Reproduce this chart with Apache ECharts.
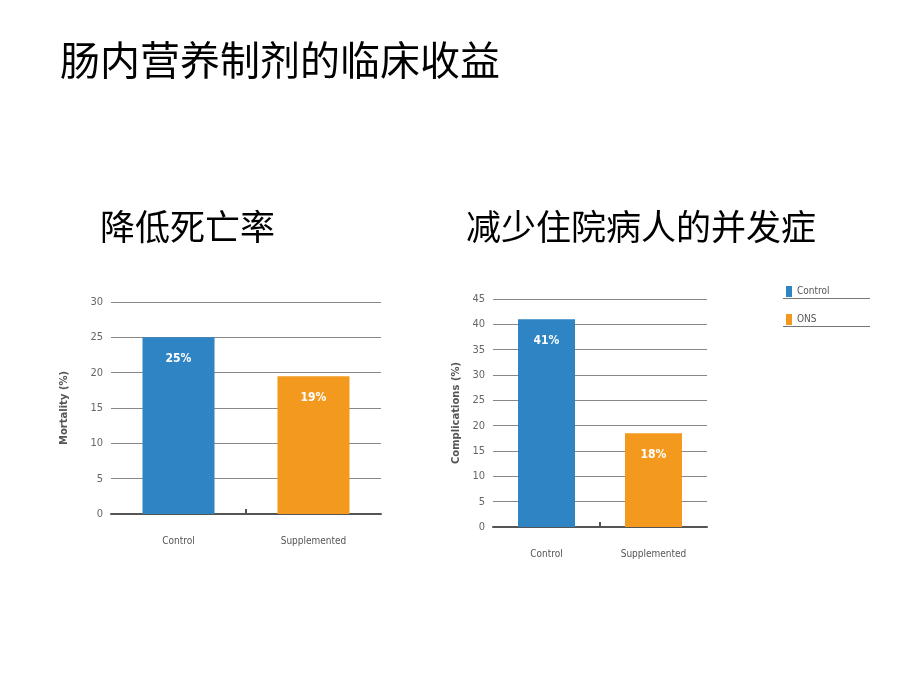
<!DOCTYPE html>
<html>
<head>
<meta charset="utf-8">
<script src="https://cdn.jsdelivr.net/npm/echarts@6/dist/echarts.min.js"></script>
<style>
html,body{margin:0;padding:0;background:#fff;}
#c{width:920px;height:690px;}
</style>
</head>
<body>
<div id="c"></div>
<script>
var categories = ['Control', 'Supplemented'];
var legendNames = ['Control', 'ONS'];
var mortality = [25, 19.5];
var mortalityLabels = ['25%', '19%'];
var complications = [41, 18.5];
var complicationLabels = ['41%', '18%'];
var mainTitle = '肠内营养制剂的临床收益';
var leftTitle = '降低死亡率';
var rightTitle = '减少住院病人的并发症';

var BLUE = '#2F84C4', ORANGE = '#F39A1E';
var cjk = '"Noto Sans CJK SC", sans-serif';
var chart = echarts.init(document.getElementById('c'));

function makeSeries(name, idx, values, labels, color, axisIndex, width) {
  return {
    type: 'bar', name: name, xAxisIndex: axisIndex, yAxisIndex: axisIndex,
    data: values.map(function (v, i) { return i === idx ? v : '-'; }),
    barWidth: width, barGap: '-100%',
    itemStyle: { color: color },
    label: {
      show: true, position: 'insideTop', distance: 16,
      color: '#fff', fontSize: 12, fontWeight: 'bold', fontFamily: '"Liberation Sans Narrow","DejaVu Sans Condensed",sans-serif',
      formatter: function (p) { return labels[p.dataIndex]; }
    },
    silent: true, animation: false
  };
}

function xAx(gi) {
  return {
    type: 'category', gridIndex: gi, data: categories,
    axisLine: { lineStyle: { color: '#555', width: 2 } },
    axisTick: { show: false },
    axisLabel: { color: '#555', fontSize: 10, margin: 22, fontFamily: '"DejaVu Sans Condensed", sans-serif' }
  };
}
function yAx(gi, max, interval, name, gap) {
  return {
    type: 'value', gridIndex: gi, min: 0, max: max, interval: interval,
    name: name, nameLocation: 'middle', nameGap: gap,
    nameTextStyle: { color: '#555', fontSize: 10, fontWeight: 'bold', fontFamily: '"DejaVu Sans", sans-serif' },
    axisLine: { show: false }, axisTick: { show: false },
    axisLabel: { color: '#666', fontSize: 11, margin: 8, fontFamily: '"DejaVu Sans Condensed", sans-serif' },
    splitLine: { show: true, lineStyle: { color: '#888', width: 1 } }
  };
}

chart.setOption({
  animation: false,
  backgroundColor: '#fff',
  title: [
    { text: mainTitle, left: 55, top: 33, textStyle: { fontFamily: cjk, fontSize: 40, fontWeight: 'normal', color: '#000', lineHeight: 44 } },
    { text: leftTitle, left: 95, top: 203, textStyle: { fontFamily: cjk, fontSize: 35, fontWeight: 'normal', color: '#000', lineHeight: 38 } },
    { text: rightTitle, left: 461, top: 203, textStyle: { fontFamily: cjk, fontSize: 35, fontWeight: 'normal', color: '#000', lineHeight: 38 } }
  ],
  legend: {
    data: legendNames, orient: 'vertical', left: 781, top: 281, itemGap: 17,
    icon: 'rect', itemWidth: 6, itemHeight: 11,
    textStyle: { color: '#555', fontSize: 10, fontFamily: '"DejaVu Sans Condensed", sans-serif' },
    selectedMode: false
  },
  color: [BLUE, ORANGE],
  grid: [
    { left: 111, right: 539, top: 302, bottom: 176 },
    { left: 493, right: 213, top: 299, bottom: 163 }
  ],
  xAxis: [xAx(0), xAx(1)],
  yAxis: [yAx(0, 30, 5, 'Mortality (%)', 42), yAx(1, 45, 5, 'Complications (%)', 32)],
  series: [
    makeSeries(legendNames[0], 0, mortality, mortalityLabels, BLUE, 0, 72),
    makeSeries(legendNames[1], 1, mortality, mortalityLabels, ORANGE, 0, 72),
    makeSeries(legendNames[0], 0, complications, complicationLabels, BLUE, 1, 57),
    makeSeries(legendNames[1], 1, complications, complicationLabels, ORANGE, 1, 57)
  ]
});

// middle tick between the two categories, located through the library's own scales
var gfx = [
  { type: 'line', shape: { x1: 783, y1: 298.5, x2: 870, y2: 298.5 }, style: { stroke: '#777', lineWidth: 1 } },
  { type: 'line', shape: { x1: 783, y1: 326.5, x2: 870, y2: 326.5 }, style: { stroke: '#777', lineWidth: 1 } }
];
[0, 1].forEach(function (gi) {
  var p0 = chart.convertToPixel({ xAxisIndex: gi, yAxisIndex: gi }, [categories[0], 0]);
  var p1 = chart.convertToPixel({ xAxisIndex: gi, yAxisIndex: gi }, [categories[1], 0]);
  var mx = Math.round((p0[0] + p1[0]) / 2);
  gfx.push({ type: 'line', shape: { x1: mx, y1: p0[1] - 5, x2: mx, y2: p0[1] }, style: { stroke: '#555', lineWidth: 2 } });
});
chart.setOption({ graphic: gfx });
</script>
</body>
</html>
